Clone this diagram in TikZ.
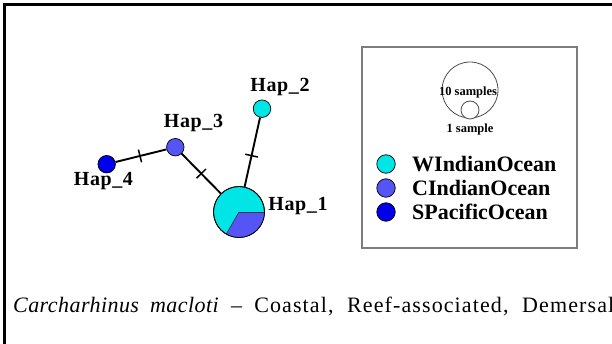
\documentclass[tikz,border=0pt]{standalone}
\usepackage{fontspec}
\setmainfont{Liberation Serif}
\usetikzlibrary{decorations.markings}
\definecolor{wio}{RGB}{0,230,230}
\definecolor{cio}{RGB}{85,85,245}
\definecolor{spo}{RGB}{0,0,235}
\definecolor{boxgray}{RGB}{125,125,125}
\begin{document}
\begin{tikzpicture}[x=1pt,y=1pt,
  hap/.style={circle, draw=black, line width=0.7pt, minimum size=17.5pt, inner sep=0pt},
  haplabel/.style={font={\fontsize{20}{20}\selectfont\bfseries\addfontfeature{LetterSpace=3}}, inner sep=0pt, anchor=base},
  legtext/.style={font={\fontsize{22}{22}\selectfont\bfseries}, inner sep=0pt, anchor=west},
  sizetext/.style={font={\fontsize{12.5}{12.5}\selectfont\bfseries}, inner sep=0pt},
  link/.style={line width=1.9pt, draw=black},
  ticked/.style={postaction={decorate, decoration={markings, mark=at position #1 with {\draw[line width=1.5pt] (0,-6.5pt) -- (0,6.5pt);}}}},
  ticked/.default=0.5
]
\useasboundingbox (0,0) rectangle (612,343);
% outer frame
\draw[line width=2.3pt] (4.5,-5) -- (4.5,338.5) -- (620,338.5);

% haplotype nodes
\node[hap, minimum size=51pt, fill=wio] (h1) at (239,131) {};
\fill[cio] (h1.center) -- ++(25.5,0) arc[start angle=0, end angle=-120, radius=25.5] -- cycle;
\draw[line width=0.6pt, black!80] (h1.center) -- ++(25.5,0);
\draw[line width=0.6pt, black!80] (h1.center) -- ++(-120:25.5);
\draw[line width=0.8pt] (h1.center) circle[radius=25.5];
\node[hap, fill=wio] (h2) at (262,234.3) {};
\node[hap, fill=cio] (h3) at (175.3,195.8) {};
\node[hap, fill=spo] (h4) at (106.7,178.8) {};

% links
\draw[link, ticked=0.48] (h4) -- (h3);
\draw[link, ticked=0.5] (h3) -- (h1);
\draw[link, ticked=0.55] (h2) -- (h1);

% labels
\node[haplabel] (l1) at (298,133) {Hap\_1};
\node[haplabel] (l2) at (280,251.3) {Hap\_2};
\node[haplabel] (l3) at (193.5,215) {Hap\_3};
\node[haplabel] (l4) at (103.4,158) {Hap\_4};

% legend
\draw[boxgray, line width=2pt] (362,296) rectangle (577,95);
\draw[black!70, line width=0.8pt] (470,253) circle[radius=28];
\draw[black!70, line width=0.8pt, fill=white] (470,233) circle[radius=9];
\node[sizetext] (s10) at (468,251) {10 samples};
\node[sizetext] (s1) at (470,214) {1 sample};

\node[hap, minimum size=18.5pt, fill=wio] (k1) at (386,179) {};
\node[hap, minimum size=18.5pt, fill=cio] (k2) at (386,155) {};
\node[hap, minimum size=18.5pt, fill=spo] (k3) at (386,131) {};
\node[legtext] (t1) at (412,179) {WIndianOcean};
\node[legtext] (t2) at (412,155) {CIndianOcean};
\node[legtext] (t3) at (412,131) {SPacificOcean};

% caption
\node[anchor=base west, inner sep=0pt, font={\fontsize{22}{22}\selectfont}] (cap) at (13,31)
  {\makebox[601pt][s]{\itshape\addfontfeature{LetterSpace=2} Carcharhinus macloti\upshape\addfontfeature{LetterSpace=5}{} – Coastal, Reef-associated, Demersal}};
\end{tikzpicture}
\end{document}
